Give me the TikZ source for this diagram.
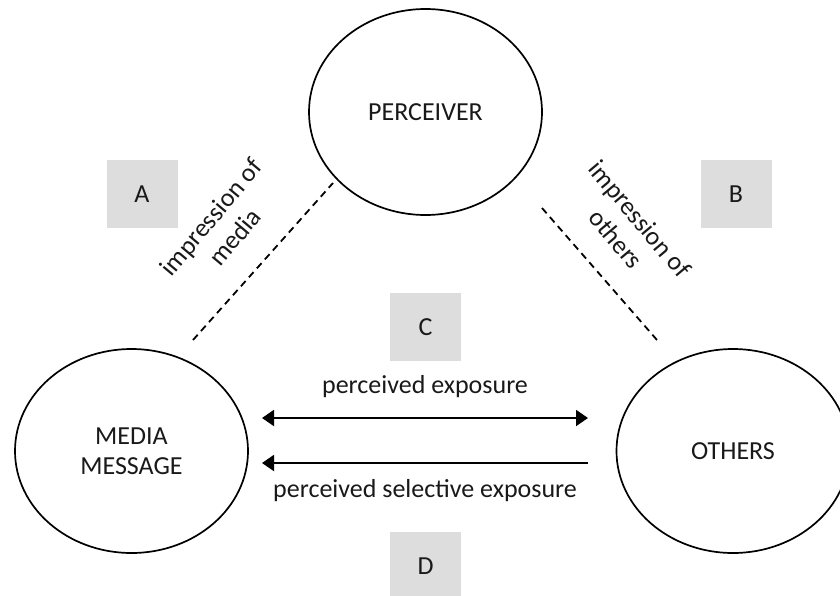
\documentclass[tikz,border=0pt]{standalone}
\usepackage{fontspec}
\setmainfont{Carlito}
\usetikzlibrary{shapes.geometric,arrows.meta}
\begin{document}
\begin{tikzpicture}[x=1pt,y=-1pt,
  every node/.style={font=\fontsize{26}{31}\selectfont, text=black!90},
  circ/.style={draw, ellipse, line width=1.7pt, minimum width=233pt, align=center},
  greybox/.style={fill=gray!27, minimum width=71pt, minimum height=68pt},
  dashline/.style={line width=1.8pt, dash pattern=on 7pt off 5pt},
  arr/.style={line width=2pt, -{Triangle[length=12pt,width=16pt]}},
  dlabel/.style={align=center}]
\useasboundingbox (0,0) rectangle (840,595);
\node[circ, minimum height=206pt] (perc) at (425.5,112) {PERCEIVER};
\node[circ, minimum height=204pt] (media) at (131.5,451) {MEDIA\\[-1pt]MESSAGE};
\node[circ, minimum height=204pt] (others) at (733,451) {OTHERS};
\node[greybox] (A) at (142,194) {A};
\node[greybox] (B) at (736,194) {B};
\node[greybox] (C) at (425.5,327) {C};
\node[greybox] (D) at (425.5,566) {D};
\coordinate (l1) at (193,340);
\coordinate (l2) at (333,183);
\coordinate (r1) at (542,208);
\coordinate (r2) at (657,340);
\draw[dashline] (l1) -- (l2);
\draw[dashline] (r1) -- (r2);
\node[dlabel, rotate=50] (lm) at (223,227) {impression of\\media};
\node[dlabel, rotate=-50] (lo) at (628,229) {impression of\\others};
\coordinate (a1) at (262,418);
\coordinate (a2) at (588,418);
\coordinate (b1) at (588,463);
\coordinate (b2) at (262,463);
\draw[arr, {Triangle[length=12pt,width=16pt]}-{Triangle[length=12pt,width=16pt]}] (a1) -- (a2);
\draw[arr] (b1) -- (b2);
\node (pe) at (425,387) {perceived exposure};
\node (pse) at (425,491) {perceived selective exposure};
\end{tikzpicture}
\end{document}
